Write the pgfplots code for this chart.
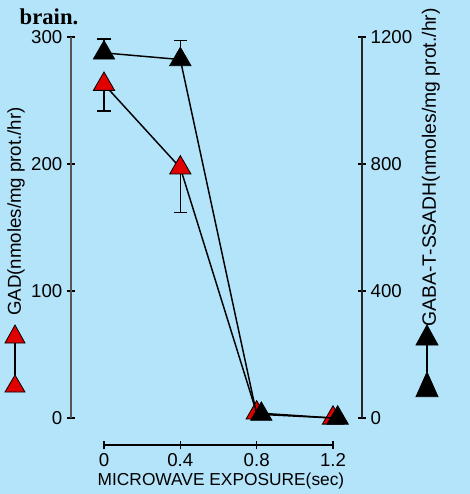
\documentclass[border=0pt]{standalone}
\usepackage{pgfplots}
\pgfplotsset{compat=1.18}
\usepackage{fontspec}
\setmainfont{Liberation Sans}
\newfontfamily\serifb{Liberation Serif}
\definecolor{bg}{RGB}{180,228,250}
\definecolor{gred}{RGB}{225,0,0}
\definecolor{axgray}{RGB}{85,85,85}
\begin{document}
\begin{tikzpicture}
\fill[bg] (-78pt,-57pt) rectangle (274.5pt,313.5pt);
\pgfplotsset{
  common/.style={
    scale only axis, width=171.75pt, height=285.75pt,
    at={(0,0)}, anchor=origin,
    xmin=0, xmax=1.2, clip=false,
    tick align=inside, major tick length=6pt,
    /pgf/number format/assume math mode=true,
    /pgf/number format/1000 sep={},
    tick label style={font=\fontsize{14}{16}\selectfont},
    yticklabel style={inner ysep=0pt},
    every outer x axis line/.append style={-},
    every outer y axis line/.append style={-},
    every inner x axis line/.append style={-},
    every inner y axis line/.append style={-},
  }
}
% left axis with x axis and GAD series
\begin{axis}[common,
  ymin=0, ymax=300,
  axis x line=bottom, axis y line=left,
  axis x line shift=20.25pt, axis y line shift=24.75pt,
  xtick={0,0.4,0.8,1.2}, xticklabels={0,0.4,0.8,1.2},
  ytick={0,100,200,300},
  y axis line style={draw=axgray, line width=1.5pt, -},
  x axis line style={draw=black, line width=1pt, -},
  every tick/.style={black, line width=1pt},
]
\addplot[black, line width=1pt, only marks, mark=none,
  error bars/.cd, y dir=minus, y explicit,
  error bar style={black, line width=1pt},
  error mark options={rotate=90, mark size=5pt, black, line width=1pt}]
  coordinates {(0,262.8) -= (0,21) (0.4,197) -= (0,35)};
\addplot[black, line width=1.1pt, mark=triangle*, mark size=9.2pt,
  mark options={fill=gred, draw=black, line width=0.6pt}]
  coordinates {(0,262.8) (0.4,197) (0.8,4) (1.2,0)};
\end{axis}
% right axis with GABA-T-SSADH series
\begin{axis}[common,
  ymin=0, ymax=1200,
  axis x line=none, axis y line=right,
  axis y line shift=21.75pt,
  ytick={0,400,800,1200},
  y axis line style={draw=black!85, line width=1.2pt, -},
  every tick/.style={black, line width=1pt},
]
\addplot[black, line width=1pt, only marks, mark=none,
  error bars/.cd, y dir=plus, y explicit,
  error bar style={black, line width=1pt},
  error mark options={rotate=90, mark size=5pt, black, line width=1pt}]
  coordinates {(0,1150) += (0,44) (0.4,1129) += (0,61)};
\addplot[black, line width=1.1pt, mark=triangle*, mark size=9.2pt,
  mark indices={1,2},
  mark options={fill=black, draw=black, line width=0.6pt}]
  coordinates {(0,1150) (0.4,1129) (0.8,12) (1.2,0)};
\addplot[only marks, mark=triangle*, mark size=9.2pt,
  mark options={fill=black, draw=black, line width=0.6pt, xshift=3.5pt}]
  coordinates {(0.8,12) (1.2,0)};
\end{axis}
% title
\node[anchor=base, inner sep=0pt, font=\serifb\bfseries\fontsize{17}{19}\selectfont] at (-41.25pt,295pt) {brain.};
% x label
\node[anchor=base, font=\fontsize{13}{15}\selectfont] at (87.75pt,-50.25pt) {MICROWAVE EXPOSURE(sec)};
% left label and key
\node[rotate=90, font=\fontsize{14}{16}\selectfont] at (-66pt,154.9pt) {GAD(nmoles/mg prot./hr)};
\draw[black, line width=1pt] (-66.75pt,56.25pt) -- (-66.75pt,32.25pt);
\filldraw[fill=gred, draw=black, line width=0.6pt] (-74.25pt,56.25pt) -- (-59.25pt,56.25pt) -- (-66.75pt,69.75pt) -- cycle;
\filldraw[fill=gred, draw=black, line width=0.6pt] (-74.25pt,19.5pt) -- (-59.25pt,19.5pt) -- (-66.75pt,32.25pt) -- cycle;
% right label and key
\node[rotate=90, font=\fontsize{14.5}{16}\selectfont] at (245.25pt,188pt) {GABA-T-SSADH(nmoles/mg prot./hr)};
\draw[black, line width=1pt] (242.25pt,54.75pt) -- (242.25pt,34.5pt);
\filldraw[fill=black, draw=black, line width=0.6pt] (234pt,54.75pt) -- (250.5pt,54.75pt) -- (242.25pt,69.75pt) -- cycle;
\filldraw[fill=black, draw=black, line width=0.6pt] (234pt,16pt) -- (250.5pt,16pt) -- (242.25pt,34.5pt) -- cycle;
\pgfresetboundingbox
\path (-78pt,-57pt) rectangle (274.5pt,313.5pt);
\end{tikzpicture}
\end{document}
